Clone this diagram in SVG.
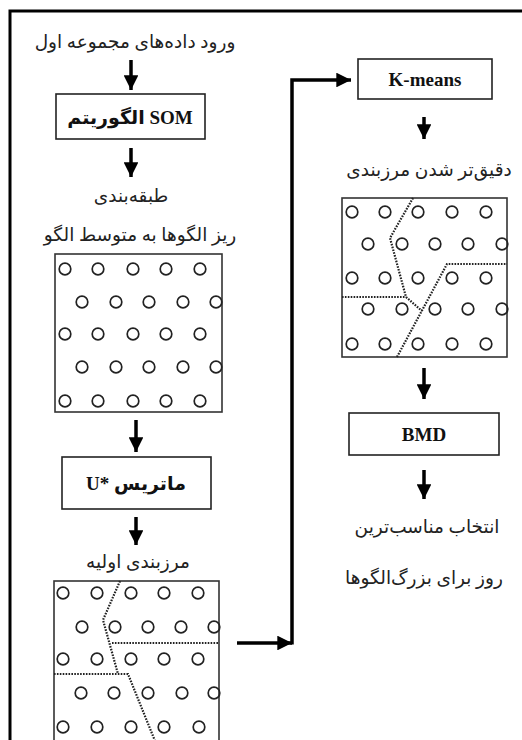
<svg xmlns="http://www.w3.org/2000/svg" width="522" height="740" viewBox="0 0 522 740">
<style>
.fa{font-family:"Liberation Serif","DejaVu Serif","DejaVu Sans",serif;font-size:18.5px;fill:#222;text-anchor:middle}
.lb{font-family:"Liberation Serif","DejaVu Serif","DejaVu Sans",serif;font-size:19px;font-weight:bold;fill:#111;text-anchor:middle}
.box{fill:#fff;stroke:#222;stroke-width:1.6}
.grid{fill:#fff;stroke:#333;stroke-width:1.6}
.c{fill:none;stroke:#222;stroke-width:1.7}
.dot{fill:none;stroke:#222;stroke-width:2.2;stroke-dasharray:1.6 1.3}
.arr{fill:none;stroke:#000;stroke-width:3.5}
</style>
<defs>
<marker id="ah" viewBox="0 0 10 10" refX="10" refY="5" markerWidth="4.2" markerHeight="4.2" orient="auto" markerUnits="strokeWidth">
<path d="M0,0 L10,5 L0,10 Z" fill="#000"/>
</marker>
</defs>
<rect width="522" height="740" fill="#fff"/>
<g id="frame" fill="none" stroke="#000" stroke-width="3">
<path d="M10,742 V11 H524"/>
</g>

<g id="n-input"><text class="fa" x="135" y="48">ورود داده‌های مجموعه اول</text></g>
<g id="n-som"><rect class="box" x="56" y="94" width="149" height="45"/><text class="lb" x="130" y="124">الگوریتم SOM</text></g>
<g id="n-classify"><text class="fa" x="131" y="202">طبقه‌بندی</text></g>
<g id="n-sub"><text class="fa" x="140" y="241">ریز الگوها به متوسط الگو</text></g>

<g id="n-grid1">
<rect class="grid" x="55" y="254" width="167" height="158"/>
<g class="c">
<circle cx="65" cy="269" r="5.8"/><circle cx="98" cy="269" r="5.8"/><circle cx="133" cy="269" r="5.8"/><circle cx="166" cy="269" r="5.8"/><circle cx="200" cy="269" r="5.8"/>
<circle cx="82" cy="302" r="5.8"/><circle cx="116" cy="302" r="5.8"/><circle cx="149" cy="302" r="5.8"/><circle cx="183" cy="302" r="5.8"/><circle cx="216" cy="302" r="5.8"/>
<circle cx="65" cy="334" r="5.8"/><circle cx="98" cy="334" r="5.8"/><circle cx="133" cy="334" r="5.8"/><circle cx="166" cy="334" r="5.8"/><circle cx="200" cy="334" r="5.8"/>
<circle cx="82" cy="367" r="5.8"/><circle cx="116" cy="367" r="5.8"/><circle cx="149" cy="367" r="5.8"/><circle cx="183" cy="367" r="5.8"/><circle cx="216" cy="367" r="5.8"/>
<circle cx="65" cy="401" r="5.8"/><circle cx="98" cy="401" r="5.8"/><circle cx="133" cy="401" r="5.8"/><circle cx="166" cy="401" r="5.8"/><circle cx="200" cy="401" r="5.8"/>
</g>
</g>

<g id="n-umatrix"><rect class="box" x="62" y="457" width="149" height="52"/><text class="lb" x="136" y="490">U* ماتریس</text></g>
<g id="n-initial"><text class="fa" x="138" y="568">مرزبندی اولیه</text></g>

<g id="n-grid2">
<rect class="grid" x="54" y="581" width="165" height="170"/>
<g class="c">
<circle cx="63" cy="593" r="5.8"/><circle cx="97" cy="593" r="5.8"/><circle cx="131" cy="593" r="5.8"/><circle cx="164" cy="593" r="5.8"/><circle cx="198" cy="593" r="5.8"/>
<circle cx="82" cy="627" r="5.8"/><circle cx="115" cy="627" r="5.8"/><circle cx="148" cy="627" r="5.8"/><circle cx="181" cy="627" r="5.8"/><circle cx="214" cy="627" r="5.8"/>
<circle cx="63" cy="659" r="5.8"/><circle cx="97" cy="659" r="5.8"/><circle cx="131" cy="659" r="5.8"/><circle cx="164" cy="659" r="5.8"/><circle cx="198" cy="659" r="5.8"/>
<circle cx="81" cy="693" r="5.8"/><circle cx="114" cy="693" r="5.8"/><circle cx="148" cy="693" r="5.8"/><circle cx="182" cy="693" r="5.8"/><circle cx="214" cy="693" r="5.8"/>
<circle cx="63" cy="727" r="5.8"/><circle cx="97" cy="727" r="5.8"/><circle cx="131" cy="727" r="5.8"/><circle cx="164" cy="727" r="5.8"/><circle cx="199" cy="727" r="5.8"/>
</g>
<path class="dot" d="M120,581 L103,620 L118,674"/>
<path class="dot" d="M112,643 H219"/>
<path class="dot" d="M54,674 H128 L155,741"/>
</g>

<g id="n-kmeans"><rect class="box" x="358" y="59" width="134" height="40"/><text class="lb" x="425" y="86">K-means</text></g>
<g id="n-refine"><text class="fa" x="429" y="176">دقیق‌تر شدن مرزبندی</text></g>

<g id="n-grid3">
<rect class="grid" x="342" y="198" width="165" height="159"/>
<g class="c">
<circle cx="352" cy="212" r="5.8"/><circle cx="385" cy="212" r="5.8"/><circle cx="418" cy="212" r="5.8"/><circle cx="452" cy="212" r="5.8"/><circle cx="486" cy="212" r="5.8"/>
<circle cx="368" cy="244" r="5.8"/><circle cx="402" cy="244" r="5.8"/><circle cx="435" cy="244" r="5.8"/><circle cx="468" cy="244" r="5.8"/><circle cx="502" cy="244" r="5.8"/>
<circle cx="352" cy="278" r="5.8"/><circle cx="385" cy="278" r="5.8"/><circle cx="418" cy="278" r="5.8"/><circle cx="452" cy="278" r="5.8"/><circle cx="486" cy="278" r="5.8"/>
<circle cx="368" cy="309" r="5.8"/><circle cx="402" cy="309" r="5.8"/><circle cx="435" cy="309" r="5.8"/><circle cx="468" cy="309" r="5.8"/><circle cx="502" cy="309" r="5.8"/>
<circle cx="352" cy="344" r="5.8"/><circle cx="385" cy="344" r="5.8"/><circle cx="418" cy="344" r="5.8"/><circle cx="452" cy="344" r="5.8"/><circle cx="486" cy="344" r="5.8"/>
</g>
<path class="dot" d="M413,198 L390,238 L406,297 L422,311"/>
<path class="dot" d="M342,297 H406"/>
<path class="dot" d="M397,357 L447,264 H507"/>
</g>

<g id="n-bmd"><rect class="box" x="349" y="413" width="150" height="42"/><text class="lb" x="424" y="441">BMD</text></g>
<g id="n-result">
<text class="fa" x="427" y="533">انتخاب مناسب‌ترین</text>
<text class="fa" x="424" y="584">روز برای بزرگ‌الگوها</text>
</g>

<g id="connectors">
<path class="arr" d="M131,60 V90" marker-end="url(#ah)"/>
<path class="arr" d="M131,148 V177" marker-end="url(#ah)"/>
<path class="arr" d="M136,420 V452" marker-end="url(#ah)"/>
<path class="arr" d="M136,517 V545" marker-end="url(#ah)"/>
<path class="arr" d="M237,643 H292" marker-end="url(#ah)"/>
<path class="arr" d="M292,644.5 V80 H351" marker-end="url(#ah)"/>
<path class="arr" d="M424,117 V139" marker-end="url(#ah)"/>
<path class="arr" d="M424,368 V399" marker-end="url(#ah)"/>
<path class="arr" d="M424,470 V499" marker-end="url(#ah)"/>
</g>
</svg>
